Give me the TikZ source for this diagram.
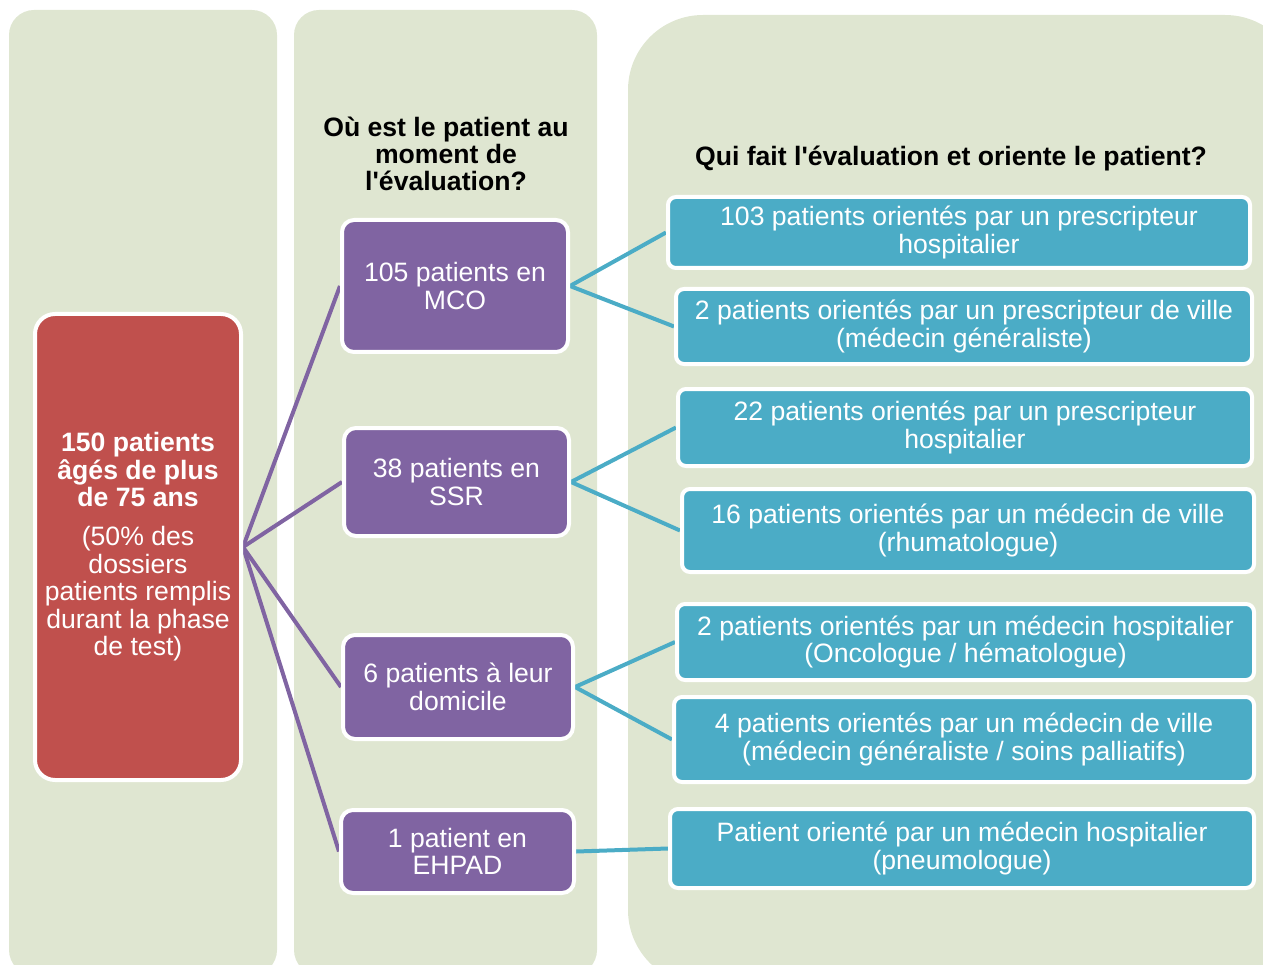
\documentclass[tikz,border=0pt]{standalone}
\usepackage{fontspec}
\setmainfont{Liberation Sans}[Ligatures=TeXOff]
\definecolor{colbg}{HTML}{DFE6D1}
\definecolor{redbox}{HTML}{C0504D}
\definecolor{purplebox}{HTML}{8064A2}
\definecolor{bluebox}{HTML}{4BACC6}
\pgfdeclarelayer{bg}
\pgfdeclarelayer{links}
\pgfsetlayers{bg,links,main}
\begin{document}
\begin{tikzpicture}[x=1pt,y=-1pt,
  colpanel/.style={fill=colbg},
  boxbase/.style={draw=white, line width=4pt, text=white, align=center,
    inner sep=0pt, font=\fontsize{26.6}{27.6}\selectfont},
  rootbox/.style={boxbase, fill=redbox, rounded corners=20pt},
  placebox/.style={boxbase, fill=purplebox, rounded corners=12pt},
  whobox/.style={boxbase, fill=bluebox, rounded corners=8pt},
  heading/.style={align=center, inner sep=0pt, font=\bfseries\fontsize{26.6}{27.2}\selectfont},
  plink/.style={draw=purplebox, line width=4pt},
  blink/.style={draw=bluebox, line width=4pt}]
\useasboundingbox (0,0) rectangle (1263,965);

% background columns
\begin{pgfonlayer}{bg}
  \fill[colpanel, rounded corners=25pt] (9,10) rectangle (277,975);
  \fill[colpanel, rounded corners=25pt] (294,10) rectangle (597,975);
  \fill[colpanel, rounded corners=75pt] (628,15) rectangle (1300,985);
\end{pgfonlayer}

% headings
\node[heading] (h1) at (446,154) {Où est le patient au\\moment de\\l'évaluation?};
\node[heading] (h2) at (951,159) {Qui fait l'évaluation et oriente le patient?};

% root
\node[rootbox, minimum width=206pt, minimum height=466pt] (root) at (138,547)
  {\textbf{150 patients}\\\textbf{âgés de plus}\\\textbf{de 75 ans}\\[11pt]
   (50\% des\\dossiers\\patients remplis\\durant la phase\\de test)};

% places
\node[placebox, minimum width=226pt, minimum height=132pt] (mco) at (455,286) {105 patients en\\MCO};
\node[placebox, minimum width=225pt, minimum height=108pt] (ssr) at (456.5,482) {38 patients en\\SSR};
\node[placebox, minimum width=230pt, minimum height=104pt] (dom) at (458,687) {6 patients à leur\\domicile};
\node[placebox, minimum width=233pt, minimum height=83pt] (ehpad) at (457.5,851.5) {1 patient en\\EHPAD};

% who
\node[whobox, minimum width=582pt, minimum height=71pt] (w1) at (959,232.5)
  {103 patients orientés par un prescripteur\\hospitalier};
\node[whobox, minimum width=576pt, minimum height=75pt] (w2) at (964,326.5)
  {2 patients orientés par un prescripteur de ville\\(médecin généraliste)};
\node[whobox, minimum width=574pt, minimum height=77pt] (w3) at (965,427.5)
  {22 patients orientés par un prescripteur\\hospitalier};
\node[whobox, minimum width=572pt, minimum height=83pt] (w4) at (968,530.5)
  {16 patients orientés par un médecin de ville\\(rhumatologue)};
\node[whobox, minimum width=577pt, minimum height=76pt] (w5) at (965.5,642)
  {2 patients orientés par un médecin hospitalier\\(Oncologue / hématologue)};
\node[whobox, minimum width=580pt, minimum height=85pt] (w6) at (964,739.5)
  {4 patients orientés par un médecin de ville\\(médecin généraliste / soins palliatifs)};
\node[whobox, minimum width=584pt, minimum height=79pt] (w7) at (962,848.5)
  {Patient orienté par un médecin hospitalier\\(pneumologue)};

% connectors
\begin{pgfonlayer}{links}
  \draw[plink] (root.east) -- (mco.west);
  \draw[plink] (root.east) -- (ssr.west);
  \draw[plink] (root.east) -- (dom.west);
  \draw[plink] (root.east) -- (ehpad.west);
  \draw[blink] (mco.east) -- (w1.west);
  \draw[blink] (mco.east) -- (w2.west);
  \draw[blink] (ssr.east) -- (w3.west);
  \draw[blink] (ssr.east) -- (w4.west);
  \draw[blink] (dom.east) -- (w5.west);
  \draw[blink] (dom.east) -- (w6.west);
  \draw[blink] (ehpad.east) -- (w7.west);
\end{pgfonlayer}
\end{tikzpicture}
\end{document}
